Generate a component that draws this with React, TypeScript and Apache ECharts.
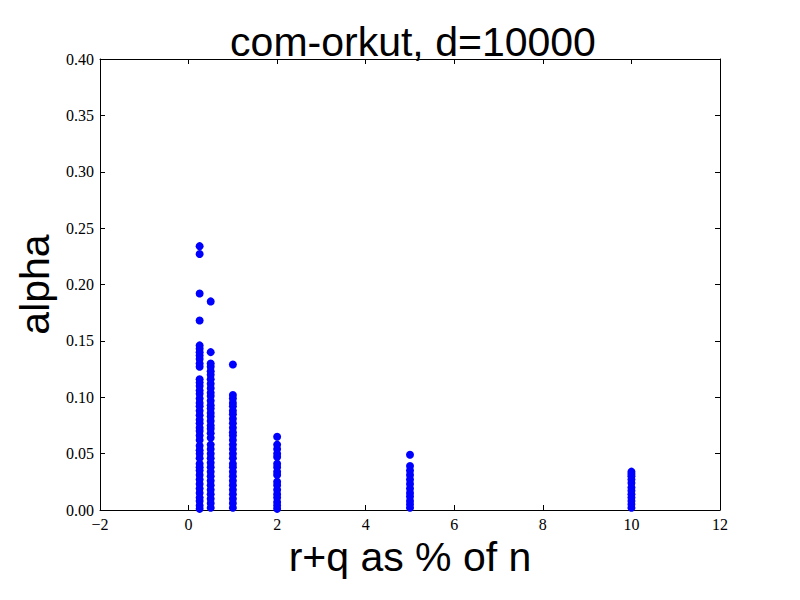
import React, { useEffect, useRef } from "react";
import * as echarts from "echarts";

const xPositions = [0.25, 0.5, 1, 2, 5, 10];
const col025 = [0.234, 0.227, 0.192, 0.168, 0.146, 0.143, 0.140, 0.137, 0.134, 0.130, 0.127, 0.116, 0.113, 0.110, 0.106, 0.103, 0.099, 0.095, 0.092, 0.088, 0.084, 0.080, 0.077, 0.073, 0.070, 0.066, 0.062, 0.057, 0.053, 0.050, 0.046, 0.041, 0.038, 0.035, 0.031, 0.027, 0.023, 0.019, 0.015, 0.011, 0.008, 0.004, 0.001];
const col05 = [0.185, 0.140, 0.130, 0.127, 0.123, 0.120, 0.116, 0.112, 0.108, 0.104, 0.101, 0.097, 0.093, 0.090, 0.086, 0.083, 0.079, 0.075, 0.072, 0.068, 0.064, 0.058, 0.054, 0.050, 0.046, 0.042, 0.038, 0.034, 0.030, 0.026, 0.022, 0.018, 0.014, 0.010, 0.006, 0.002];
const col1 = [0.129, 0.102, 0.099, 0.095, 0.092, 0.088, 0.085, 0.081, 0.077, 0.073, 0.069, 0.066, 0.062, 0.058, 0.054, 0.050, 0.046, 0.041, 0.038, 0.034, 0.030, 0.026, 0.022, 0.018, 0.014, 0.010, 0.006, 0.002];
const col2 = [0.065, 0.058, 0.054, 0.050, 0.047, 0.041, 0.038, 0.034, 0.031, 0.025, 0.022, 0.018, 0.014, 0.011, 0.007, 0.004, 0.001];
const col5 = [0.049, 0.039, 0.035, 0.031, 0.027, 0.023, 0.019, 0.015, 0.012, 0.008, 0.005, 0.002];
const col10 = [0.034, 0.032, 0.030, 0.027, 0.024, 0.020, 0.017, 0.014, 0.011, 0.008, 0.005, 0.002];
const columns = [col025, col05, col1, col2, col5, col10];

const titleText = "com-orkut, d=10000";
const xName = "r+q as % of n";
const yName = "alpha";

export default function App() {
  const ref = useRef<HTMLDivElement>(null);
  useEffect(() => {
    if (!ref.current) return;
    const chart = echarts.init(ref.current, null, { renderer: "svg" });
    const data: number[][] = [];
    columns.forEach((col, i) => col.forEach((v) => data.push([xPositions[i], v])));
    const serif = "Liberation Serif";
    const sans = "Liberation Sans";
    const xCommon = {
      type: "value",
      min: -2,
      max: 12,
      interval: 2,
      splitLine: { show: false },
      axisLine: { show: true, onZero: false, lineStyle: { color: "#000", width: 1 } },
      axisTick: { show: true, inside: true, length: 5, lineStyle: { color: "#000" } },
    };
    const yCommon = {
      type: "value",
      min: 0,
      max: 0.4,
      interval: 0.05,
      splitLine: { show: false },
      axisLine: { show: true, onZero: false, lineStyle: { color: "#000", width: 1 } },
      axisTick: { show: true, inside: true, length: 5, lineStyle: { color: "#000" } },
    };
    chart.setOption({
      animation: false,
      backgroundColor: "#fff",
      title: {
        text: titleText,
        left: 408,
        top: 16,
        textAlign: "center",
        textStyle: { fontFamily: sans, fontSize: 41, fontWeight: "normal", color: "#000" },
      },
      grid: { left: 100, right: 80, top: 59, bottom: 90 },
      xAxis: [
        {
          ...xCommon,
          position: "bottom",
          name: xName,
          nameLocation: "middle",
          nameGap: 24,
          nameTextStyle: { fontFamily: sans, fontSize: 41, color: "#000" },
          axisLabel: {
            show: true,
            margin: 6,
            fontFamily: serif,
            fontSize: 16,
            color: "#000",
            formatter: (v: number) => (v < 0 ? "\u2212" + Math.abs(v) : String(v)),
          },
        },
        { ...xCommon, position: "top", axisLabel: { show: false } },
      ],
      yAxis: [
        {
          ...yCommon,
          position: "left",
          name: yName,
          nameLocation: "middle",
          nameGap: 41,
          nameTextStyle: { fontFamily: sans, fontSize: 41, color: "#000" },
          axisLabel: {
            show: true,
            margin: 6,
            fontFamily: serif,
            fontSize: 16,
            color: "#000",
            formatter: (v: number) => v.toFixed(2),
          },
        },
        { ...yCommon, position: "right", axisLabel: { show: false } },
      ],
      series: [
        {
          type: "scatter",
          data,
          symbol: "circle",
          symbolSize: 8,
          itemStyle: { color: "#0000ff", opacity: 1 },
          clip: true,
        },
      ],
    });
    return () => chart.dispose();
  }, []);
  return (
    <div
      ref={ref}
      style={{ position: "fixed", left: 0, top: 0, width: 800, height: 600, background: "#fff" }}
    />
  );
}
